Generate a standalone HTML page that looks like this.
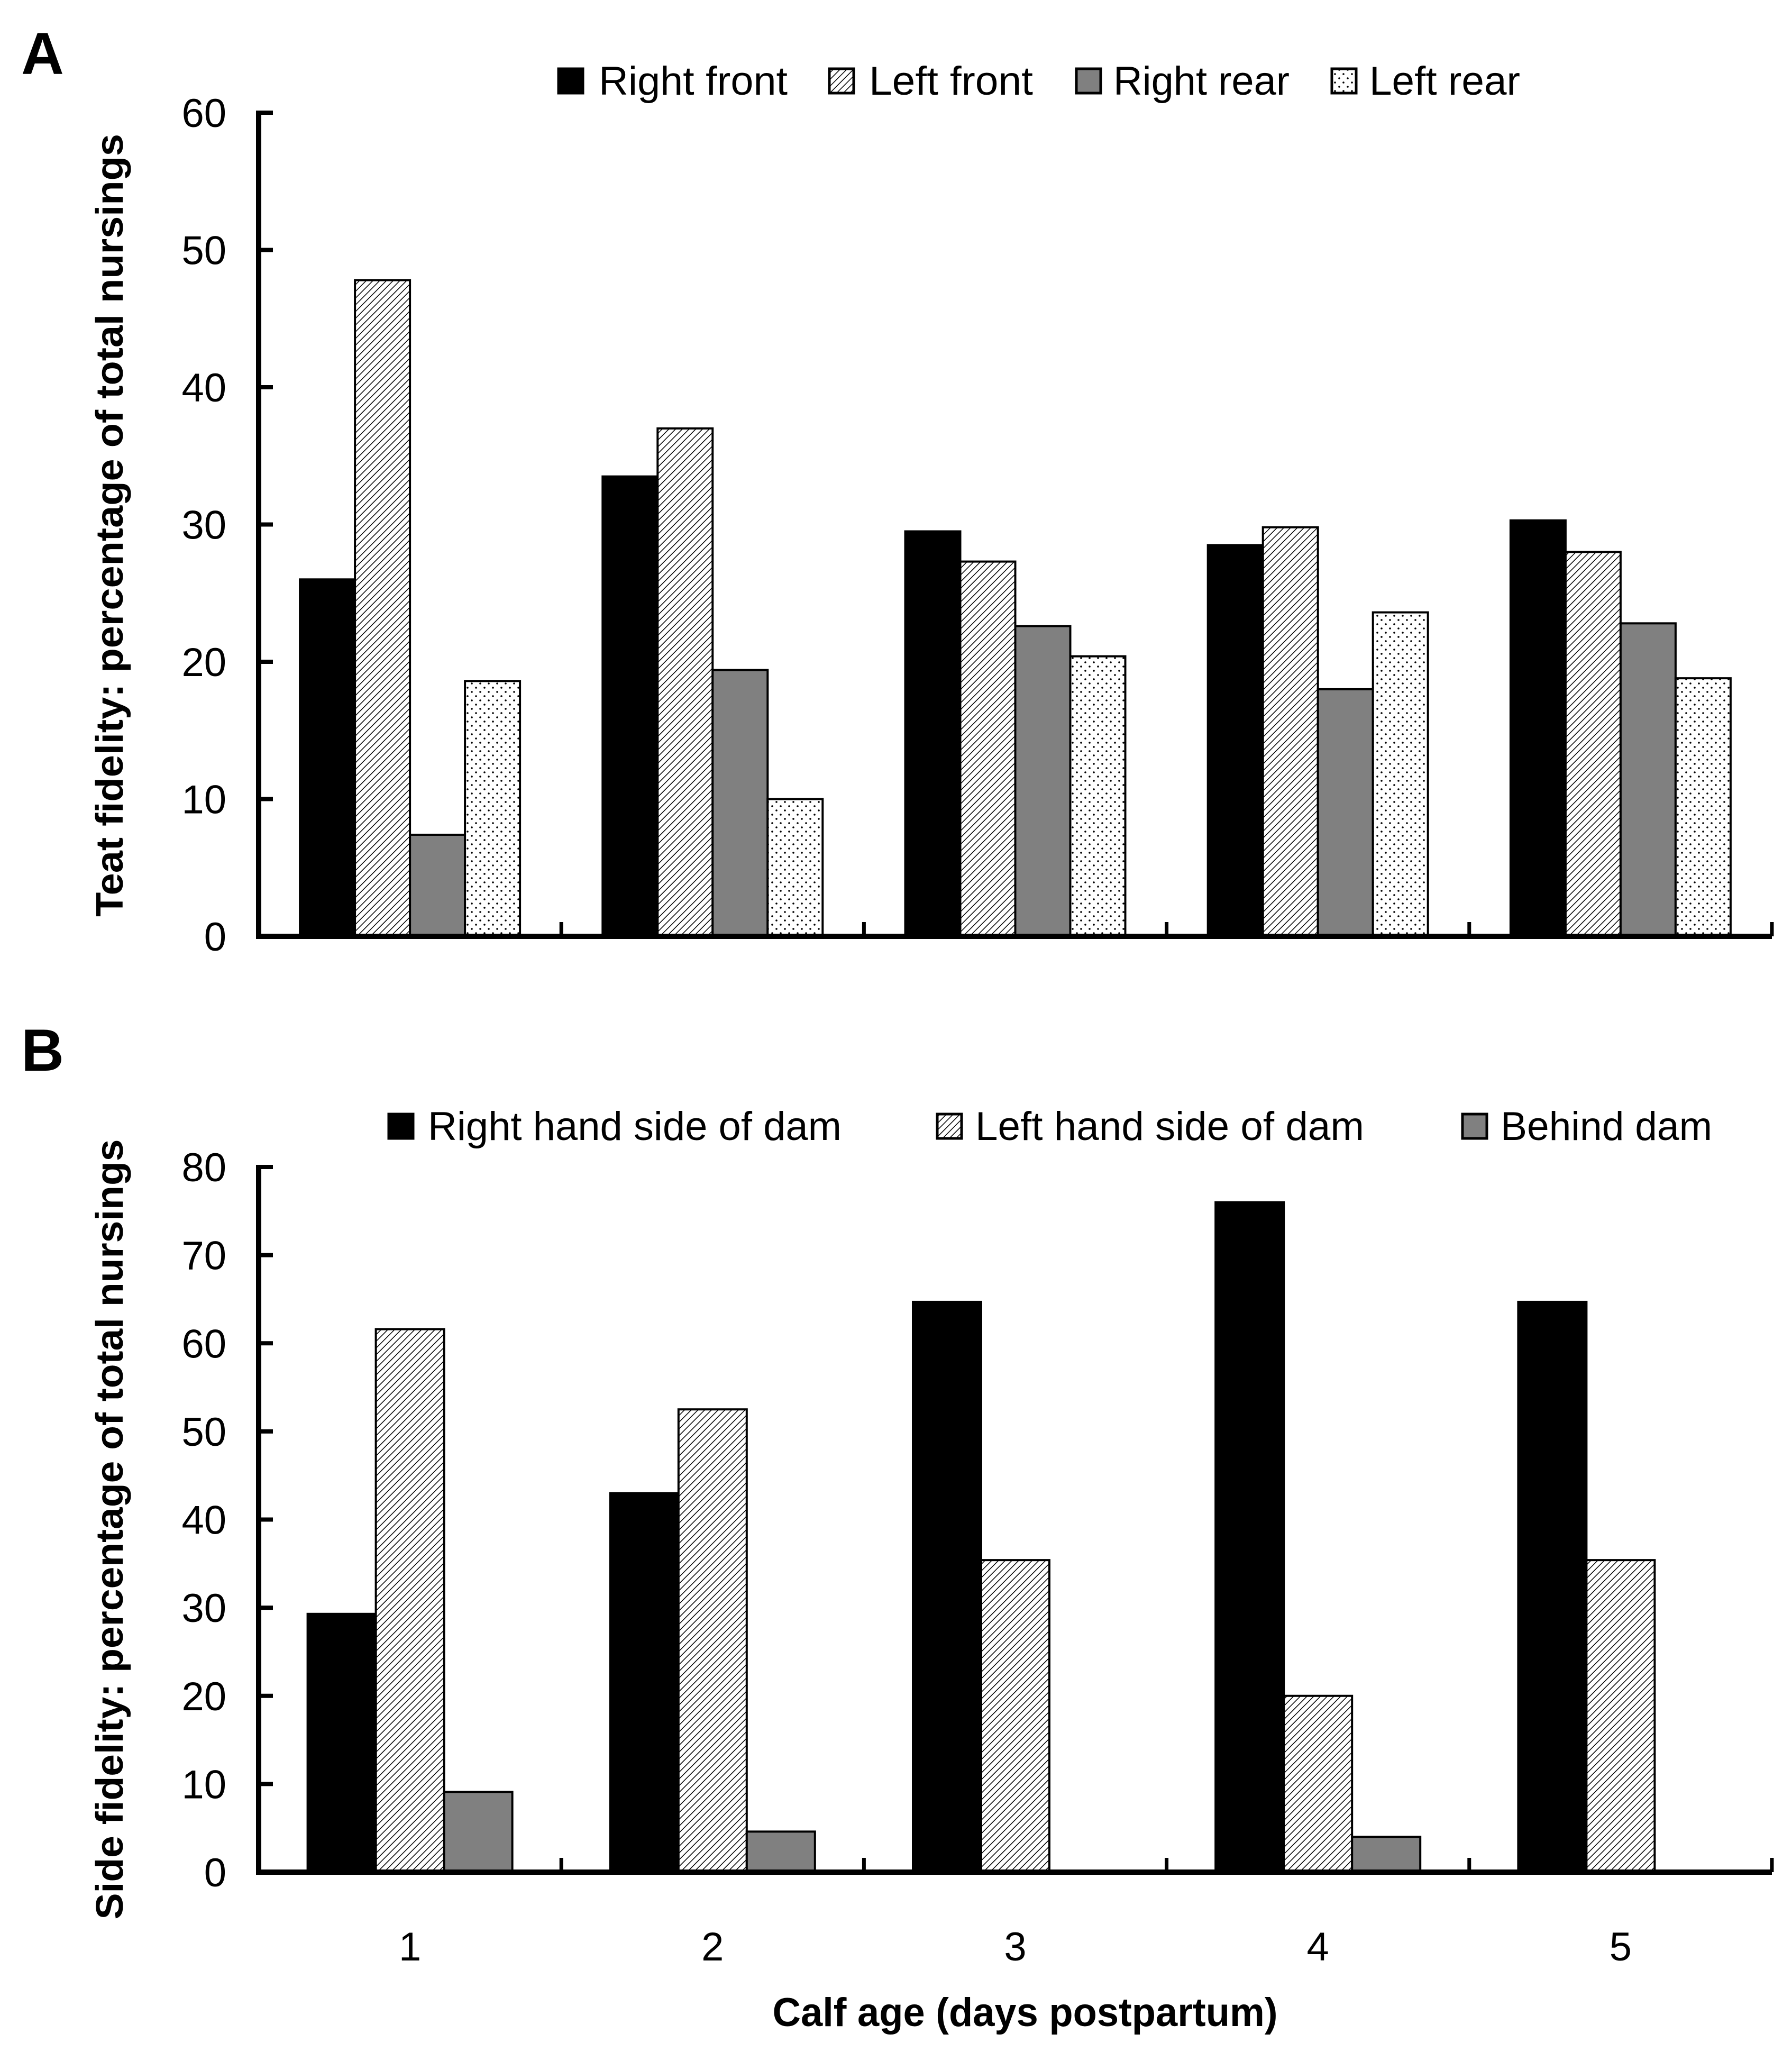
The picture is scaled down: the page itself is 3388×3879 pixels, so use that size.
<!DOCTYPE html>
<html><head><meta charset="utf-8"><style>
html,body{margin:0;padding:0;background:#fff;}
svg{display:block;}
text{font-family:"Liberation Sans",sans-serif;fill:#000;}
</style></head><body>
<svg id="fig" width="3388" height="3879" viewBox="0 0 3388 3879" xmlns="http://www.w3.org/2000/svg">
<defs>
<pattern id="hatch" patternUnits="userSpaceOnUse" width="9" height="9" patternTransform="rotate(45)">
<rect width="9" height="9" fill="#fff"/><line x1="0" y1="0" x2="0" y2="9" stroke="#000" stroke-width="3"/>
</pattern>
<pattern id="dots" patternUnits="userSpaceOnUse" width="16" height="16">
<rect width="16" height="16" fill="#fff"/><circle cx="4" cy="4" r="1.8" fill="#000"/><circle cx="12" cy="12" r="1.8" fill="#000"/>
</pattern>
</defs>
<text x="40" y="140" font-size="112" font-weight="bold">A</text>
<text x="40" y="2024" font-size="112" font-weight="bold">B</text>
<g id="chartA"></g>
<g id="chartB"></g>
<text x="1938" y="3830" font-size="76" font-weight="bold" text-anchor="middle" textLength="955" lengthAdjust="spacingAndGlyphs">Calf age (days postpartum)</text>
</svg>
<script>
const categories = ["1","2","3","4","5"];
const seriesA_names = ["Right front","Left front","Right rear","Left rear"];
const rightFront = [26, 33.5, 29.5, 28.5, 30.3];
const leftFront = [47.8, 37, 27.3, 29.8, 28];
const rightRear = [7.4, 19.4, 22.6, 18, 22.8];
const leftRear = [18.6, 10, 20.4, 23.6, 18.8];
const ticksA = [0,10,20,30,40,50,60];
const seriesB_names = ["Right hand side of dam","Left hand side of dam","Behind dam"];
const rightHand = [29.3, 43, 64.7, 76, 64.7];
const leftHand = [61.6, 52.5, 35.4, 20, 35.4];
const behindDam = [9.1, 4.6, 0, 4, 0];
const ticksB = [0,10,20,30,40,50,60,70,80];

const NS = "http://www.w3.org/2000/svg";
function mk(parent, tag, attrs, txt){
  const e = document.createElementNS(NS, tag);
  for (const k in attrs) e.setAttribute(k, attrs[k]);
  if (txt !== undefined) e.textContent = txt;
  parent.appendChild(e);
  return e;
}
const fills = ["#000","url(#hatch)","#808080","url(#dots)"];
const axL = 489, axR = 3350;

function drawChart(g, cfg){
  const yScale = v => cfg.y0 - (v - cfg.min) / (cfg.max - cfg.min) * (cfg.y0 - cfg.yTop);
  const gw = (axR - axL) / categories.length;
  const n = cfg.series.length;
  const off = (gw - n * cfg.bw) / 2;
  cfg.series.forEach((vals, si) => {
    vals.forEach((v, ci) => {
      const x = axL + ci * gw + off + si * cfg.bw;
      const y = yScale(v);
      const r = mk(g, "rect", {x: x, y: y, width: cfg.bw, height: cfg.y0 - y, fill: fills[si], stroke: "#000", "stroke-width": 4});
      
      
    });
  });
  const ya = mk(g, "line", {x1: axL, y1: cfg.yTop - 4, x2: axL, y2: cfg.y0 + 5, stroke: "#000", "stroke-width": 10});
  
  
  const xa = mk(g, "line", {x1: axL - 5, y1: cfg.y0, x2: axR, y2: cfg.y0, stroke: "#000", "stroke-width": 10});
  
  
  cfg.ticks.forEach(t => {
    const y = yScale(t);
    mk(g, "line", {x1: axL, y1: y, x2: axL + 27, y2: y, stroke: "#000", "stroke-width": 8});
    const tl = mk(g, "text", {x: 428, y: y + 27, "font-size": 76, "text-anchor": "end"}, String(t));
    
    
  });
  for (let i = 1; i <= categories.length; i++) {
    const x = axL + i * gw;
    mk(g, "line", {x1: x, y1: cfg.y0, x2: x, y2: cfg.y0 - 27, stroke: "#000", "stroke-width": 7});
  }
  if (cfg.xlabels) {
    categories.forEach((c, ci) => {
      const tl = mk(g, "text", {x: axL + (ci + 0.5) * gw, y: 3706, "font-size": 76, "text-anchor": "middle"}, c);
      
      
    });
  }
  const yt = mk(g, "text", {x: 0, y: 0, "font-size": 72, "font-weight": "bold", "text-anchor": "middle", textLength: cfg.titleLen, lengthAdjust: "spacingAndGlyphs", transform: "translate(232," + cfg.titleY + ") rotate(-90)"}, cfg.title);
  
  
  cfg.legend.forEach((L, i) => {
    const sq = mk(g, "rect", {x: L.sx, y: cfg.legY - 49, width: 46, height: 46, fill: fills[i], stroke: "#000", "stroke-width": 5});
    
    
    const lt = mk(g, "text", {x: L.tx, y: cfg.legY, "font-size": 76, textLength: L.w, lengthAdjust: "spacingAndGlyphs"}, cfg.names[i]);
    
    
  });
}

drawChart(document.getElementById("chartA"), {
  key: "a", y0: 1770, yTop: 213, min: 0, max: 60, bw: 104, ticks: ticksA,
  series: [rightFront, leftFront, rightRear, leftRear], names: seriesA_names,
  title: "Teat fidelity: percentage of total nursings", titleY: 993, titleLen: 1480,
  legY: 179,
  legend: [{sx:1056,tx:1132,w:357},{sx:1568,tx:1643,w:310},{sx:2035,tx:2105,w:333},{sx:2518,tx:2589,w:285}],
  xlabels: false
});
drawChart(document.getElementById("chartB"), {
  key: "b", y0: 3539, yTop: 2206, min: 0, max: 80, bw: 129, ticks: ticksB,
  series: [rightHand, leftHand, behindDam], names: seriesB_names,
  title: "Side fidelity: percentage of total nursings", titleY: 2891, titleLen: 1475,
  legY: 2155,
  legend: [{sx:735,tx:809,w:782},{sx:1772,tx:1844,w:735},{sx:2765,tx:2837,w:400}],
  xlabels: true
});
</script>
</body></html>
